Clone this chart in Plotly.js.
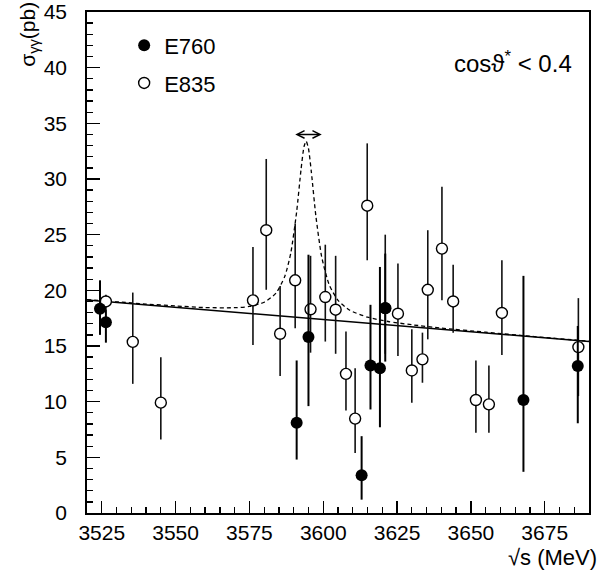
<!DOCTYPE html>
<html>
<head>
<meta charset="utf-8">
<script src="https://cdn.plot.ly/plotly-3.0.1.min.js"></script>
<style>html,body{margin:0;padding:0;background:#fff;}#chart{width:605px;height:574px;}</style>
</head>
<body>
<div id="chart"></div>
<script>
// E760 (filled circles)
var e760X = [3524.4, 3526.4, 3591.0, 3595.0, 3613.0, 3616.0, 3619.2, 3621.0, 3667.8, 3686.2];
var e760Y = [18.35, 17.13, 8.10, 15.80, 3.40, 13.25, 13.00, 18.40, 10.15, 13.20];
var e760Up = [2.55, 1.17, 5.60, 7.40, 3.50, 5.45, 9.10, 4.90, 11.15, 3.60];
var e760Dn = [2.35, 1.83, 3.30, 6.20, 2.20, 3.95, 5.30, 4.80, 6.45, 5.14];

// E835 (open circles)
var e835X = [3526.4, 3535.5, 3545.0, 3576.2, 3580.7, 3585.4, 3590.5, 3595.7, 3600.7, 3604.2, 3607.7, 3610.8, 3614.9, 3621.0, 3625.3, 3630.0, 3633.6, 3635.4, 3640.2, 3644.0, 3651.7, 3656.1, 3660.5, 3686.4];
var e835Y = [19.00, 15.37, 9.91, 19.10, 25.40, 16.10, 20.90, 18.30, 19.40, 18.26, 12.50, 8.48, 27.60, 18.40, 17.90, 12.80, 13.80, 20.05, 23.75, 19.00, 10.15, 9.76, 17.97, 14.90];
var e835Up = [0.60, 4.43, 4.09, 4.80, 6.40, 4.30, 5.10, 4.80, 4.70, 4.84, 3.80, 4.52, 5.60, 6.60, 4.50, 3.70, 2.40, 5.35, 5.55, 3.30, 3.55, 3.49, 4.73, 4.40];
var e835Dn = [0.70, 3.77, 3.31, 4.00, 5.35, 3.80, 4.30, 3.90, 4.00, 3.96, 3.30, 3.08, 4.90, 4.10, 3.80, 2.90, 2.10, 4.45, 4.65, 2.80, 2.95, 2.56, 3.77, 4.40];

// Background fit (solid line)
var bgX = [3520, 3690];
var bgY = [19.13, 15.40];

// Background + resonance (dashed line)
var fitX = [3520, 3530, 3540, 3550, 3560, 3570, 3575, 3580, 3584, 3587, 3589, 3591, 3592.5, 3593.5, 3594.2, 3595, 3596, 3597.5, 3599.5, 3602, 3605, 3609, 3615, 3622, 3630, 3640, 3655, 3670, 3690];
var fitY = [19.17, 18.97, 18.77, 18.60, 18.45, 18.44, 18.55, 18.93, 19.75, 21.27, 23.33, 27.07, 30.90, 32.92, 33.40, 32.74, 30.57, 26.69, 22.97, 20.51, 19.10, 18.21, 17.59, 17.20, 16.91, 16.61, 16.24, 15.88, 15.43];

// Width arrow
var arrowX = [3589.0, 3599.5];
var arrowY = 34.0;

var xTicks = [3525, 3550, 3575, 3600, 3625, 3650, 3675];
var yTicks = [0, 5, 10, 15, 20, 25, 30, 35, 40, 45];

var FONT = 'Liberation Sans, Arial, Helvetica, sans-serif';

var traces = [
  {x: bgX, y: bgY, mode: 'lines', line: {color: '#000', width: 1.5}, showlegend: false, hoverinfo: 'skip'},
  {x: fitX, y: fitY, mode: 'lines', line: {color: '#000', width: 1.3, dash: '4px,3px', shape: 'spline', smoothing: 0.6}, showlegend: false, hoverinfo: 'skip'},
  {x: e835X, y: e835Y, mode: 'markers', name: 'E835', legendgroup: 'b', legendrank: 2,
   error_y: {type: 'data', symmetric: false, array: e835Up, arrayminus: e835Dn, color: '#111', thickness: 1.6, width: 0},
   marker: {symbol: 'circle', size: 11, color: '#fff', line: {color: '#000', width: 1.4}}},
  {x: e760X, y: e760Y, mode: 'markers', name: 'E760', legendgroup: 'a', legendrank: 1,
   error_y: {type: 'data', symmetric: false, array: e760Up, arrayminus: e760Dn, color: '#000', thickness: 2, width: 0},
   marker: {symbol: 'circle', size: 12, color: '#000', line: {color: '#000', width: 0}}}
];

var layout = {
  width: 605, height: 574,
  margin: {l: 87, r: 16, t: 12, b: 61, pad: 0},
  paper_bgcolor: '#fff', plot_bgcolor: '#fff',
  font: {family: FONT, size: 21, color: '#000'},
  showlegend: true,
  legend: {x: 0.074, y: 0.975, xanchor: 'left', yanchor: 'top', bgcolor: 'rgba(0,0,0,0)',
           font: {family: FONT, size: 22, color: '#000'}, tracegroupgap: 6, traceorder: 'grouped'},
  xaxis: {range: [3520, 3690], tickmode: 'array', tickvals: xTicks, ticktext: xTicks.map(String),
          ticks: 'inside', ticklen: 12, tickwidth: 1.3, tickcolor: '#000',
          minor: {dtick: 5, tick0: 3520, ticks: 'inside', ticklen: 6, tickwidth: 1.3, tickcolor: '#000', showgrid: false},
          showline: true, mirror: true, linecolor: '#000', linewidth: 1.8,
          showgrid: false, zeroline: false, ticklabelstandoff: 0,
          tickfont: {family: FONT, size: 21, color: '#000'}},
  yaxis: {range: [0, 45], tickmode: 'array', tickvals: yTicks, ticktext: yTicks.map(String),
          ticks: 'inside', ticklen: 13, tickwidth: 1.3, tickcolor: '#000',
          minor: {dtick: 1, tick0: 0, ticks: 'inside', ticklen: 6, tickwidth: 1.3, tickcolor: '#000', showgrid: false},
          showline: true, mirror: true, linecolor: '#000', linewidth: 1.8,
          showgrid: false, zeroline: false, ticklabelstandoff: 14,
          tickfont: {family: FONT, size: 21, color: '#000'}},
  annotations: [
    {xref: 'paper', yref: 'paper', x: -0.117, y: 0.955, xanchor: 'center', yanchor: 'middle', textangle: -90,
     text: 'σ<sub>γγ</sub>(pb)', showarrow: false, font: {family: FONT, size: 21, color: '#000'}},
    {xref: 'paper', yref: 'paper', x: 1.02, y: -0.088, xanchor: 'right', yanchor: 'middle',
     text: '√s (MeV)', showarrow: false, font: {family: FONT, size: 22, color: '#000'}},
    {xref: 'paper', yref: 'paper', x: 0.97, y: 0.900, xanchor: 'right', yanchor: 'middle',
     text: 'cos&#977;<sup>*</sup> &lt; 0.4', showarrow: false, font: {family: FONT, size: 24, color: '#000'}},
    {xref: 'x', yref: 'y', axref: 'x', ayref: 'y', x: arrowX[1], y: arrowY, ax: arrowX[0], ay: arrowY,
     text: ' ', showarrow: true, arrowside: 'end+start', arrowhead: 5, arrowsize: 1, arrowwidth: 1.5,
     arrowcolor: '#000', standoff: 0, startstandoff: 0}
  ]
};

Plotly.newPlot('chart', traces, layout, {staticPlot: true, displayModeBar: false});
</script>
</body>
</html>
